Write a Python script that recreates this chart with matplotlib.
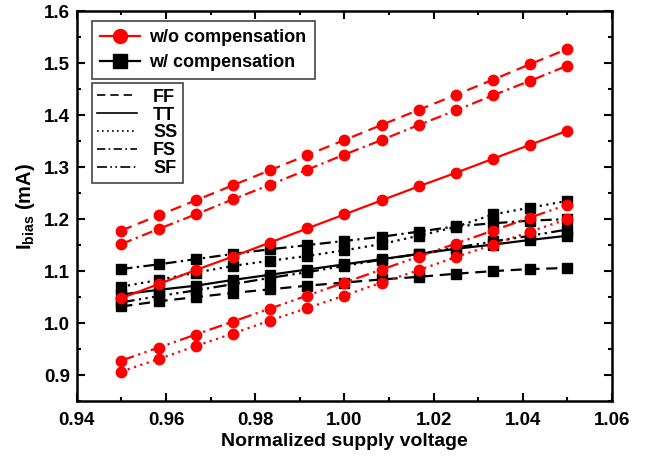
import numpy as np
import matplotlib
matplotlib.use("Agg")
import matplotlib.pyplot as plt
from matplotlib.lines import Line2D
from matplotlib.ticker import MultipleLocator, FormatStrFormatter

plt.rcParams['font.family'] = ['Liberation Sans', 'DejaVu Sans']
plt.rcParams['font.weight'] = 'bold'
plt.rcParams['mathtext.fontset'] = 'custom'
plt.rcParams['mathtext.rm'] = 'Liberation Sans:bold'
plt.rcParams['mathtext.bf'] = 'Liberation Sans:bold'

# Data
voltage = [0.95, 0.95833, 0.96667, 0.975, 0.98333, 0.99167, 1.0,
           1.00833, 1.01667, 1.025, 1.03333, 1.04167, 1.05]
corners = ['FF', 'TT', 'SS', 'FS', 'SF']

# without compensation (red)
wo_FF = [1.178, 1.207, 1.236, 1.265, 1.294, 1.323, 1.352, 1.381, 1.410, 1.439, 1.468, 1.498, 1.527]
wo_TT = [1.048, 1.075, 1.102, 1.128, 1.155, 1.182, 1.209, 1.236, 1.263, 1.289, 1.316, 1.343, 1.370]
wo_SS = [0.907, 0.931, 0.956, 0.980, 1.005, 1.029, 1.053, 1.078, 1.102, 1.127, 1.151, 1.176, 1.200]
wo_FS = [1.152, 1.181, 1.209, 1.238, 1.266, 1.295, 1.324, 1.352, 1.381, 1.409, 1.438, 1.466, 1.495]
wo_SF = [0.928, 0.953, 0.978, 1.003, 1.028, 1.053, 1.078, 1.103, 1.128, 1.153, 1.178, 1.203, 1.228]

# with compensation (black)
w_FF = [1.032, 1.042, 1.050, 1.058, 1.065, 1.072, 1.078, 1.084, 1.089, 1.095, 1.100, 1.104, 1.106]
w_TT = [1.055, 1.064, 1.072, 1.083, 1.093, 1.103, 1.113, 1.123, 1.133, 1.143, 1.151, 1.160, 1.168]
w_SS = [1.070, 1.083, 1.097, 1.110, 1.120, 1.129, 1.140, 1.152, 1.168, 1.185, 1.209, 1.222, 1.235]
w_FS = [1.104, 1.113, 1.123, 1.133, 1.142, 1.150, 1.158, 1.166, 1.176, 1.186, 1.192, 1.197, 1.200]
w_SF = [1.040, 1.052, 1.063, 1.075, 1.087, 1.098, 1.110, 1.122, 1.133, 1.145, 1.157, 1.168, 1.180]

styles = {
    'FF': (0, (5, 3)),
    'TT': '-',
    'SS': (0, (1, 2)),
    'FS': (0, (5, 2, 1, 2)),
    'SF': (0, (6, 2, 1, 2, 1, 2)),
}

fig = plt.figure(figsize=(6.56, 4.59), dpi=100)
ax = fig.add_axes([0.117, 0.126, 0.816, 0.850])

wo = {'FF': wo_FF, 'TT': wo_TT, 'SS': wo_SS, 'FS': wo_FS, 'SF': wo_SF}
w = {'FF': w_FF, 'TT': w_TT, 'SS': w_SS, 'FS': w_FS, 'SF': w_SF}

for c in corners:
    ax.plot(voltage, w[c], color='black', linestyle=styles[c], linewidth=1.6,
            marker='s', markersize=7, zorder=2)
for c in corners:
    ax.plot(voltage, wo[c], color='red', linestyle=styles[c], linewidth=1.6,
            marker='o', markersize=7.5, zorder=3)

ax.set_xlim(0.94, 1.06)
ax.set_ylim(0.85, 1.6)
ax.xaxis.set_major_locator(MultipleLocator(0.02))
ax.xaxis.set_minor_locator(MultipleLocator(0.01))
ax.yaxis.set_major_locator(MultipleLocator(0.1))
ax.yaxis.set_minor_locator(MultipleLocator(0.05))
ax.xaxis.set_major_formatter(FormatStrFormatter('%.2f'))
ax.yaxis.set_major_formatter(FormatStrFormatter('%.1f'))
ax.tick_params(which='both', direction='in', top=True, right=True, width=1.5,
               labelsize=13.5)
ax.tick_params(which='major', length=6)
ax.tick_params(which='minor', length=3)
ax.tick_params(axis='x', which='major', pad=8)
ax.tick_params(axis='y', which='major', pad=5)
for s in ax.spines.values():
    s.set_linewidth(1.8)

ax.set_xlabel('Normalized supply voltage', fontsize=14, fontweight='bold', labelpad=3)
ax.set_ylabel(r'I$_{\mathbf{bias}}$ (mA)', fontsize=14.5, fontweight='bold', labelpad=5)

h1 = [Line2D([], [], color='red', marker='o', markersize=10, linewidth=1.6),
      Line2D([], [], color='black', marker='s', markersize=10, linewidth=1.6)]
leg1 = ax.legend(h1, ['w/o compensation', 'w/ compensation'], loc='upper left',
                 bbox_to_anchor=(0.028, 0.975), fancybox=False, edgecolor='#444444',
                 fontsize=13, handlelength=2.2, borderpad=0.45, labelspacing=0.45,
                 handletextpad=0.55, borderaxespad=0.0, framealpha=1)
leg1.get_frame().set_linewidth(1.2)
ax.add_artist(leg1)

h2 = [Line2D([], [], color='black', linestyle=styles[c], linewidth=1.2) for c in corners]
leg2 = ax.legend(h2, corners, loc='upper left', bbox_to_anchor=(0.028, 0.815),
                 fancybox=False, edgecolor='#444444', fontsize=13, handlelength=2.2,
                 borderpad=0.3, labelspacing=0.05, handletextpad=0.9,
                 borderaxespad=0.0, framealpha=1)
leg2.get_frame().set_linewidth(1.2)

fig.savefig('out.png', dpi=100)
